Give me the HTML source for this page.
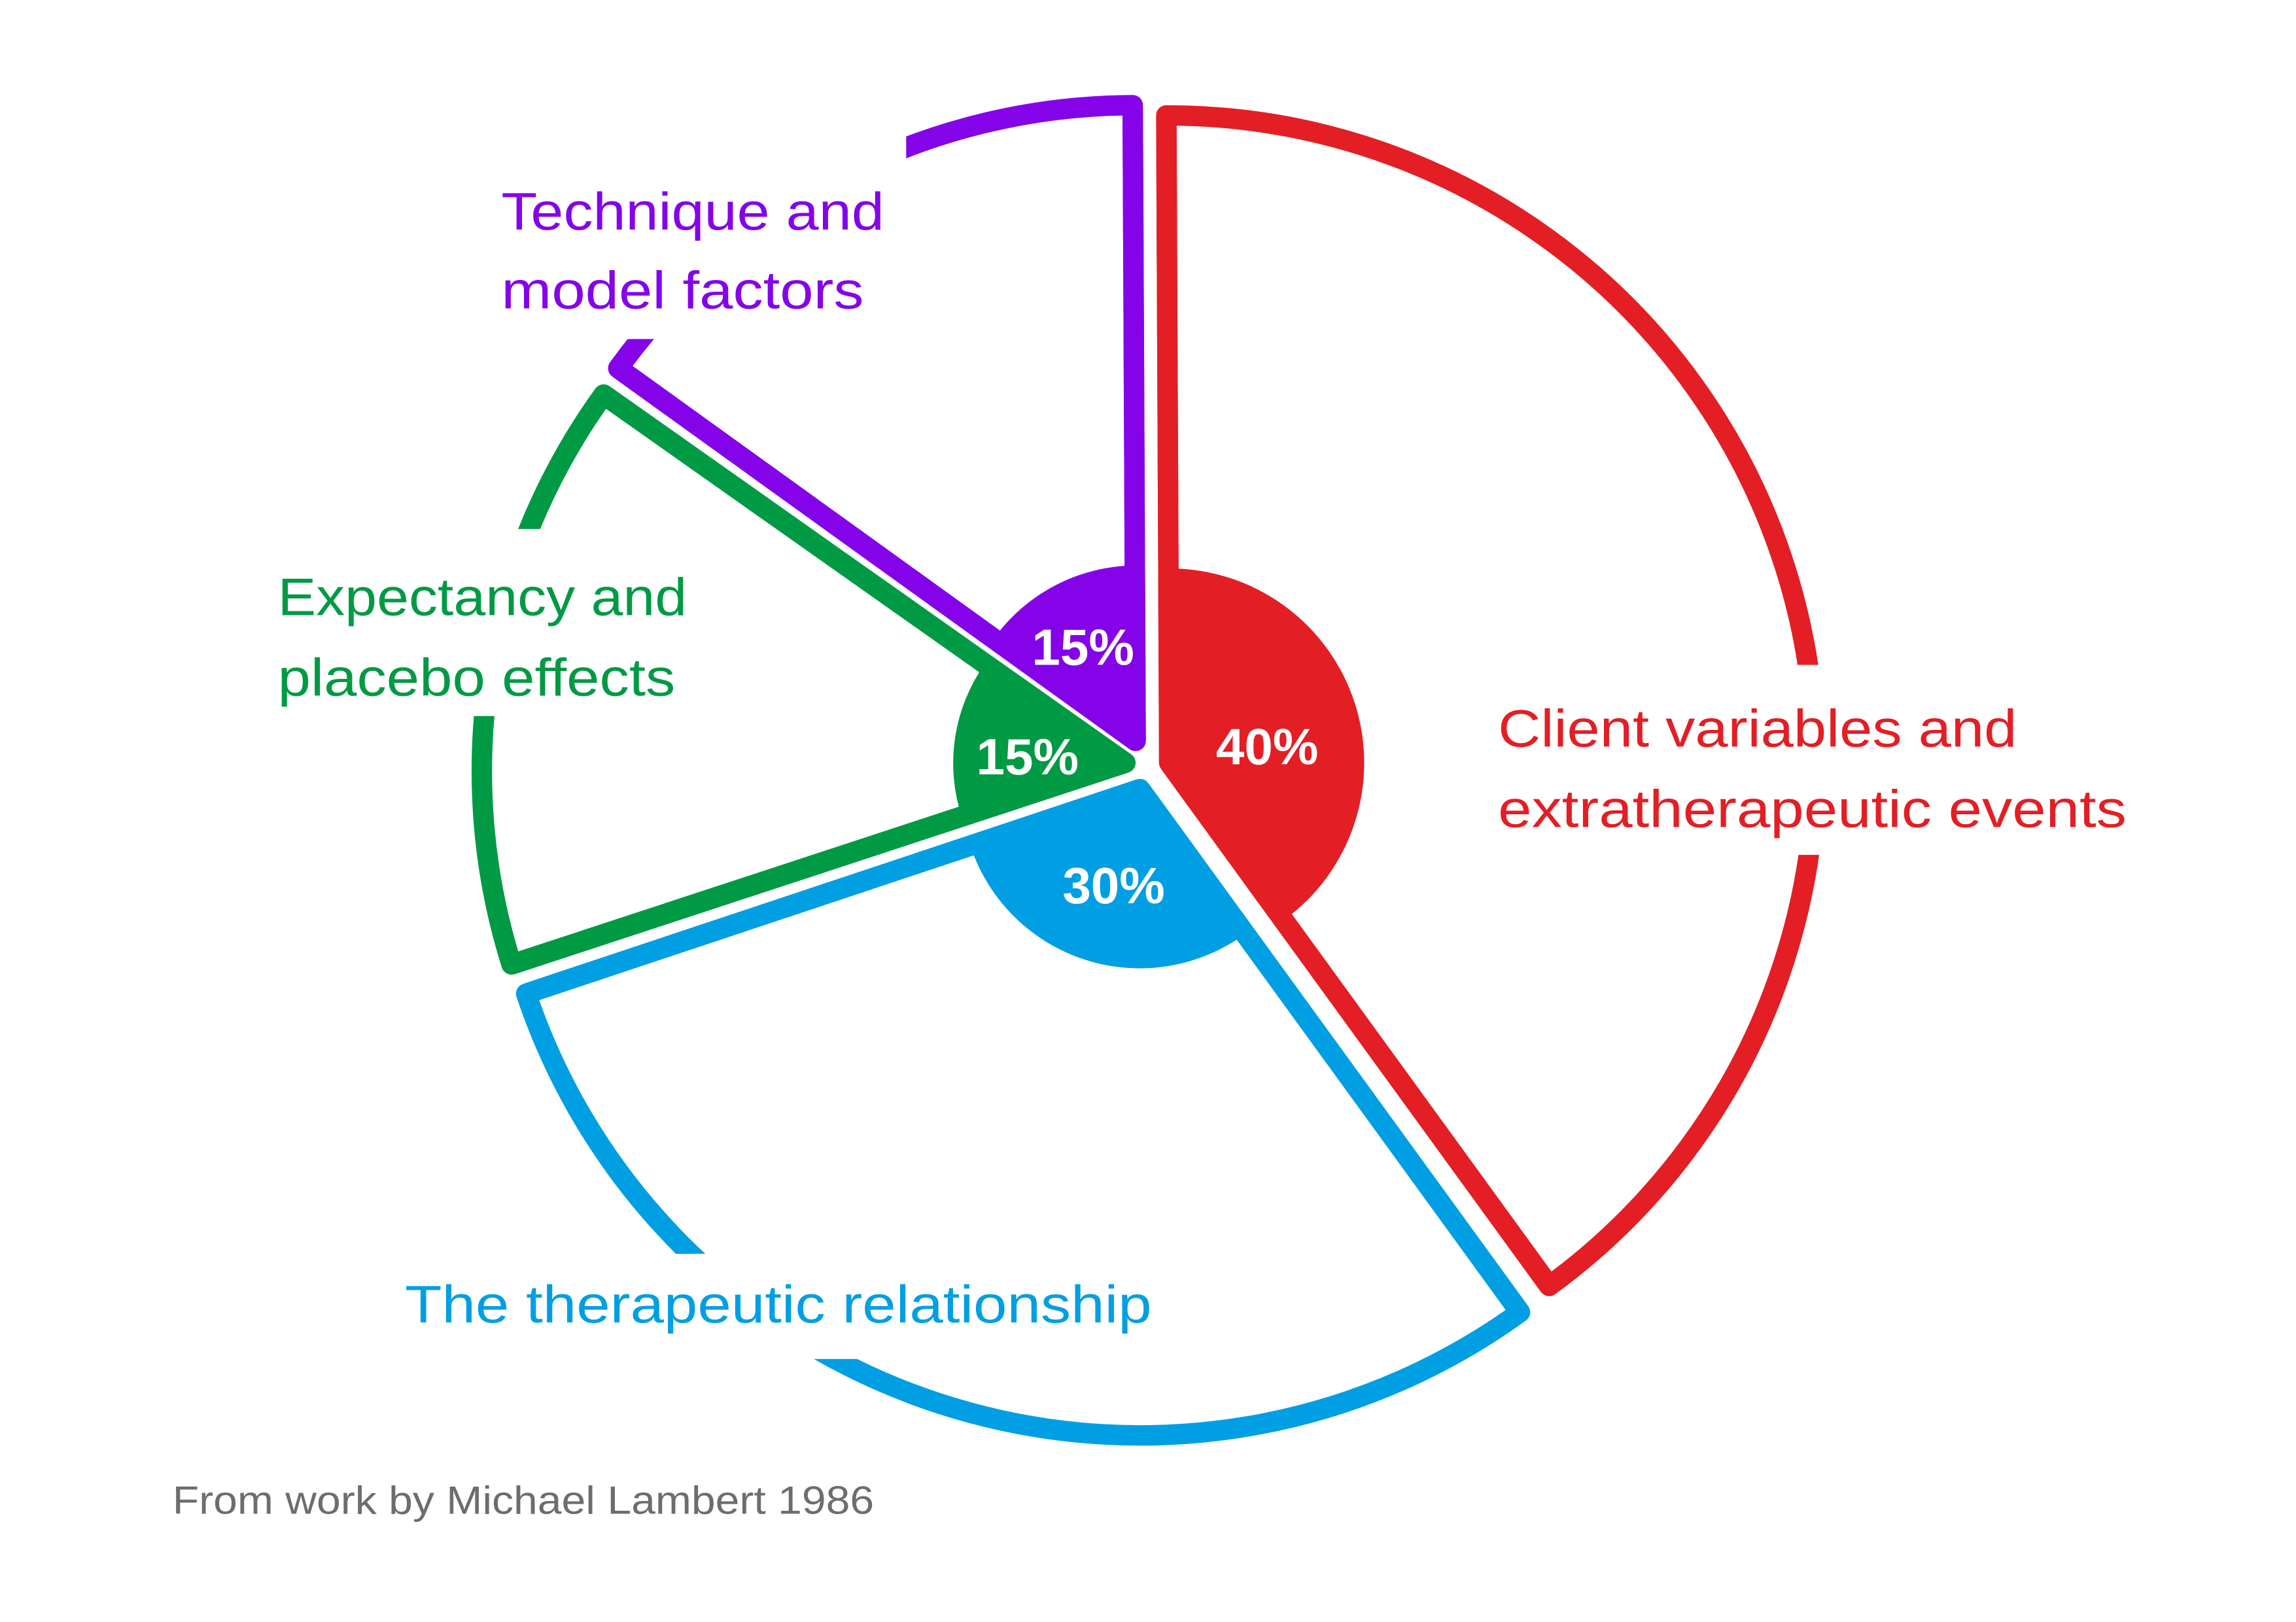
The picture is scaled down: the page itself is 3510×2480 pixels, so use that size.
<!DOCTYPE html>
<html><head><meta charset="utf-8"><style>html,body{margin:0;padding:0;background:#fff}svg{display:block}</style></head>
<body>
<svg width="3510" height="2480" viewBox="0 0 1560 1102.2" xmlns="http://www.w3.org/2000/svg" font-family="'Liberation Sans', sans-serif">
<rect width="1560" height="1103" fill="#fff"/>
<g transform="translate(5,0) scale(0.993)">
<g stroke-width="14" stroke-linejoin="round" fill="none">
<path d="M795,522 L793,79 A443,443 0 0 1 1055,880 Z" stroke="#e31e24"/>
<path d="M775,540 L1035,898 A443,443 0 0 1 355,680 Z" stroke="#009fe3"/>
<path d="M765,522 L408,270 A440,440 0 0 0 345,660 Z" stroke="#009a44"/>
<path d="M772,507 L418,252 A436,436 0 0 1 770,72 Z" stroke="#8503e8"/>
</g>
<path d="M795,522 L795,389 A133,133 0 0 1 873,630 Z" fill="#e31e24"/>
<path d="M775,540 L847,639 A122,122 0 0 1 659,579 Z" fill="#009fe3"/>
<path d="M765,522 L669,454 A118,118 0 0 0 653,559 Z" fill="#009a44"/>
<path d="M772,507 L675,437 A120,120 0 0 1 772,387 Z" fill="#8503e8"/>
<g stroke-width="14" stroke-linejoin="round" fill="none">
<path d="M795,522 L793,79" stroke="#e31e24"/>
<path d="M795,522 L1055,880" stroke="#e31e24"/>
<path d="M775,540 L1035,898 M775,540 L355,680" stroke="#009fe3"/>
<path d="M765,522 L408,270 M765,522 L345,660" stroke="#009a44"/>
<path d="M772,507 L418,252 M772,507 L770,72" stroke="#8503e8"/>
</g>
<g fill="#fff">
<rect x="330" y="80" width="285" height="152"/>
<rect x="175" y="362" width="300" height="128"/>
<rect x="1010" y="455" width="450" height="130"/>
<rect x="262" y="858" width="330" height="72"/>
</g>
<g font-size="36">
<text x="338" y="157" fill="#8503e8" textLength="262" lengthAdjust="spacingAndGlyphs">Technique and</text>
<text x="338" y="211" fill="#8503e8" textLength="248" lengthAdjust="spacingAndGlyphs">model factors</text>
<text x="185" y="421" fill="#009a44" textLength="280" lengthAdjust="spacingAndGlyphs">Expectancy and</text>
<text x="185" y="476" fill="#009a44" textLength="272" lengthAdjust="spacingAndGlyphs">placebo effects</text>
<text x="1020" y="511" fill="#e31e24" textLength="355" lengthAdjust="spacingAndGlyphs">Client variables and</text>
<text x="1020" y="566" fill="#e31e24" textLength="430" lengthAdjust="spacingAndGlyphs">extratherapeutic events</text>
<text x="272" y="905" fill="#009fe3" textLength="511" lengthAdjust="spacingAndGlyphs">The therapeutic relationship</text>
</g>
<g font-size="35" font-weight="bold" fill="#fff" text-anchor="middle">
<text x="736" y="455">15%</text>
<text x="698" y="530">15%</text>
<text x="862" y="523">40%</text>
<text x="757" y="618">30%</text>
</g>
<text x="113" y="1036" font-size="27" fill="#6d6d6d" textLength="480" lengthAdjust="spacingAndGlyphs">From work by Michael Lambert 1986</text>
</g>
</svg>
</body></html>
